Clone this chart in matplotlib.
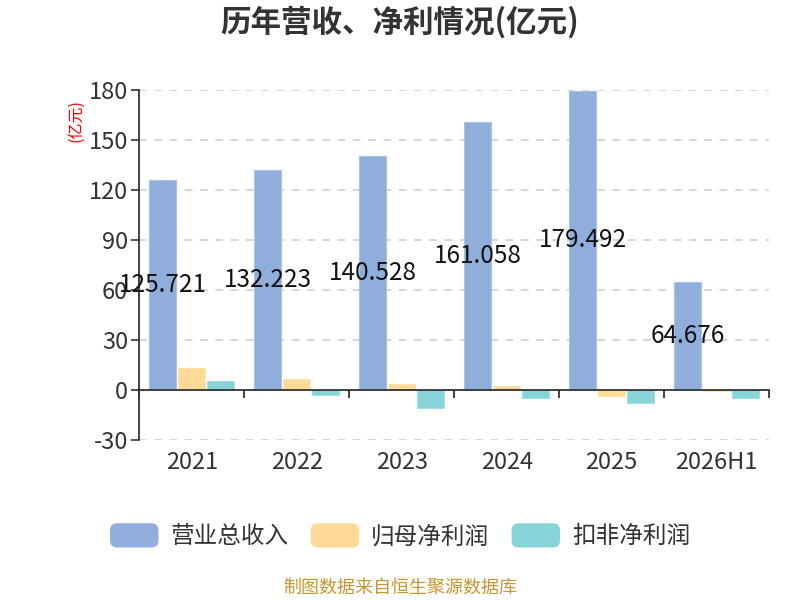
import matplotlib
matplotlib.use("Agg")
import matplotlib.pyplot as plt
import numpy as np
from matplotlib.patches import FancyBboxPatch
from matplotlib.legend_handler import HandlerPatch

plt.rcParams['font.family'] = ['Noto Sans CJK SC', 'DejaVu Sans']
plt.rcParams['axes.unicode_minus'] = False

categories = ["2021", "2022", "2023", "2024", "2025", "2026H1"]
revenue = [125.721, 132.223, 140.528, 161.058, 179.492, 64.676]
net_profit = [13.2, 6.8, 3.4, 2.6, -3.4, -0.7]
deducted_profit = [5.2, -2.8, -10.6, -5.0, -8.0, -5.0]
series_names = ["营业总收入", "归母净利润", "扣非净利润"]
yticks = [-30, 0, 30, 60, 90, 120, 150, 180]

colors = ["#8FAEDB", "#FFD996", "#86D4D8"]
edge = ["#A9C2E6", "#FFE3B0", "#A3E0E3"]

fig = plt.figure(figsize=(8, 6), dpi=100)
ax = fig.add_axes([0.174, 0.2667, 0.7875, 0.5833])

x = np.arange(len(categories))
w = 0.255
offs = [-0.277, 0.0, 0.277]
data = [revenue, net_profit, deducted_profit]
bars = []
for i in range(3):
    b = ax.bar(x + offs[i], data[i], width=w, color=colors[i], edgecolor=edge[i],
               linewidth=0.8, label=series_names[i], zorder=3)
    bars.append(b)

ax.bar_label(bars[0], labels=[f"{v:.3f}" for v in revenue], label_type='center',
             fontsize=17.5, color='#111111', zorder=5)

ax.set_xlim(-0.5, len(categories) - 0.5)
ax.set_ylim(-30, 180)
ax.set_yticks(yticks)
ax.set_yticklabels([str(t) for t in yticks], fontsize=17, color='#333333')
ax.tick_params(axis='y', length=6, width=1.2, color='#333333', pad=2)

for t in yticks:
    if t != 0:
        ax.axhline(t, color='#CCCCCC', linestyle=(0, (5, 5)), linewidth=1.1, zorder=1)

for s in ['top', 'right']:
    ax.spines[s].set_visible(False)
ax.spines['left'].set_color('#333333')
ax.spines['left'].set_linewidth(1.3)
ax.spines['bottom'].set_position(('data', 0))
ax.spines['bottom'].set_color('#333333')
ax.spines['bottom'].set_linewidth(1.3)
ax.spines['bottom'].set_zorder(4)

ax.set_xticks(np.arange(len(categories) + 1) - 0.5)
ax.set_xticklabels([])
ax.tick_params(axis='x', length=6, width=1.3, color='#333333', direction='out')

sec = ax.secondary_xaxis(0.0)
sec.set_xticks(x)
sec.set_xticklabels(categories, fontsize=17, color='#333333')
sec.tick_params(length=0, pad=8)
sec.spines['bottom'].set_visible(False)

fig.text(0.095, 0.80, "(亿元)", rotation=90, color='red', fontsize=11.5,
         ha='center', va='center')

fig.text(0.5, 0.963, "历年营收、净利情况(亿元)", fontsize=22, fontweight='bold',
         color='#333333', ha='center', va='center')


class RoundHandler(HandlerPatch):
    def create_artists(self, legend, orig_handle, xdescent, ydescent, width,
                       height, fontsize, trans):
        p = FancyBboxPatch((-xdescent, -ydescent), width, height,
                           boxstyle="round,pad=0,rounding_size=5",
                           facecolor=orig_handle.get_facecolor(),
                           edgecolor='none', transform=trans)
        return [p]


handles = [b.patches[0] for b in bars]
leg = fig.legend(handles, series_names, loc='center', bbox_to_anchor=(0.5, 0.107),
                 ncol=3, frameon=False, fontsize=17, handlelength=2.05,
                 handleheight=1.2, columnspacing=0.95, handletextpad=0.5,
                 handler_map={h: RoundHandler() for h in handles})
for t in leg.get_texts():
    t.set_color('#333333')

fig.text(0.5, 0.02, "制图数据来自恒生聚源数据库", fontsize=13, color='#C8962E',
         ha='center', va='center')

fig.savefig("out.png", dpi=100)
